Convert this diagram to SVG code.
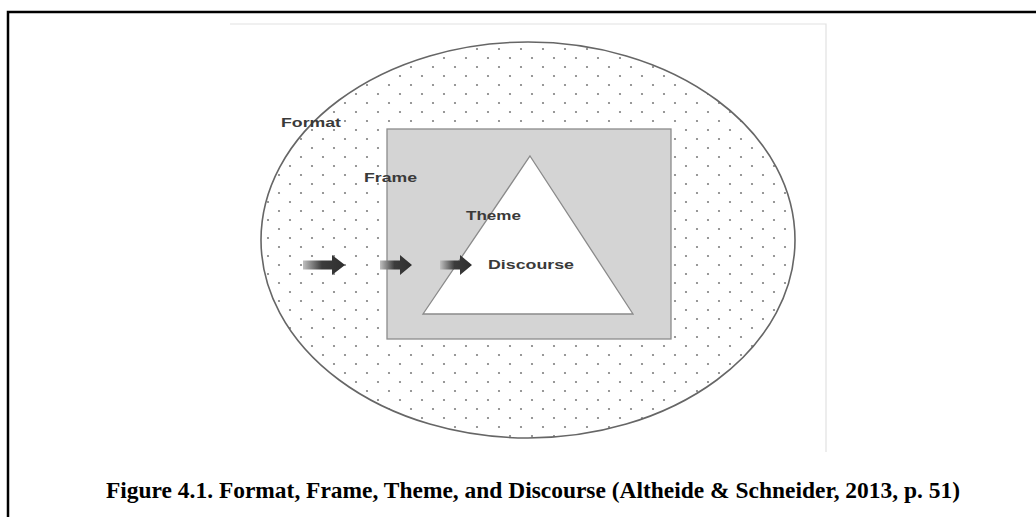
<svg xmlns="http://www.w3.org/2000/svg" width="1036" height="517" viewBox="0 0 1036 517">
  <style>
    .lbl { font-family: "Liberation Sans", Arial, sans-serif; font-weight: bold; font-size: 13px; fill: #3a3a3a; }
    .cap { font-family: "Liberation Serif", "Times New Roman", serif; font-weight: bold; font-size: 23px; fill: #000; }
    .arrow { fill: url(#arrowGrad); }
  </style>
  <defs>
    <pattern id="dots" x="0" y="0" width="22" height="18" patternUnits="userSpaceOnUse">
      <circle cx="4" cy="4" r="1.1" fill="#808080"/>
      <circle cx="15" cy="13" r="1.1" fill="#808080"/>
    </pattern>
    <linearGradient id="arrowGrad" x1="0" y1="0" x2="1" y2="0">
      <stop offset="0" stop-color="#c0c0c0"/>
      <stop offset="0.45" stop-color="#3c3c3c"/>
      <stop offset="1" stop-color="#2e2e2e"/>
    </linearGradient>
  </defs>
  <rect width="1036" height="517" fill="#fff"/>
  <!-- page frame -->
  <path d="M8,517 V12 H1036" fill="none" stroke="#000" stroke-width="2.5"/>
  <!-- faint photo edges -->
  <path d="M230,24 H826 V452" fill="none" stroke="#e2e2e2" stroke-width="1.2"/>

  <g id="format">
    <ellipse cx="528" cy="240" rx="267" ry="198" fill="url(#dots)" stroke="#666" stroke-width="1.6"/>
    <text class="lbl" x="281" y="127" textLength="60" lengthAdjust="spacingAndGlyphs">Format</text>
  </g>
  <g id="frame">
    <rect x="387" y="129" width="284" height="210" fill="#d4d4d4" stroke="#8c8c8c" stroke-width="1.3"/>
    <text class="lbl" x="364" y="182" textLength="53" lengthAdjust="spacingAndGlyphs">Frame</text>
  </g>
  <g id="theme">
    <polygon points="530,156 633,314 423,314" fill="#fff" stroke="#8a8a8a" stroke-width="1.3"/>
    <text class="lbl" x="466" y="220" textLength="55" lengthAdjust="spacingAndGlyphs">Theme</text>
  </g>
  <g id="discourse">
    <text class="lbl" x="488" y="269" textLength="86" lengthAdjust="spacingAndGlyphs">Discourse</text>
  </g>
  <g id="connectors">
    <path class="arrow" d="M303,260.5 H332 V255 L345,265 L332,275 V269.5 H303 Z"/>
    <path class="arrow" d="M380,260.5 H400 V255 L412,265 L400,275 V269.5 H380 Z"/>
    <path class="arrow" d="M440,260.5 H460 V255 L472,265 L460,275 V269.5 H440 Z"/>
  </g>
  <text class="cap" x="106" y="498" textLength="854" lengthAdjust="spacingAndGlyphs">Figure 4.1. Format, Frame, Theme, and Discourse (Altheide &amp; Schneider, 2013, p. 51)</text>
</svg>
